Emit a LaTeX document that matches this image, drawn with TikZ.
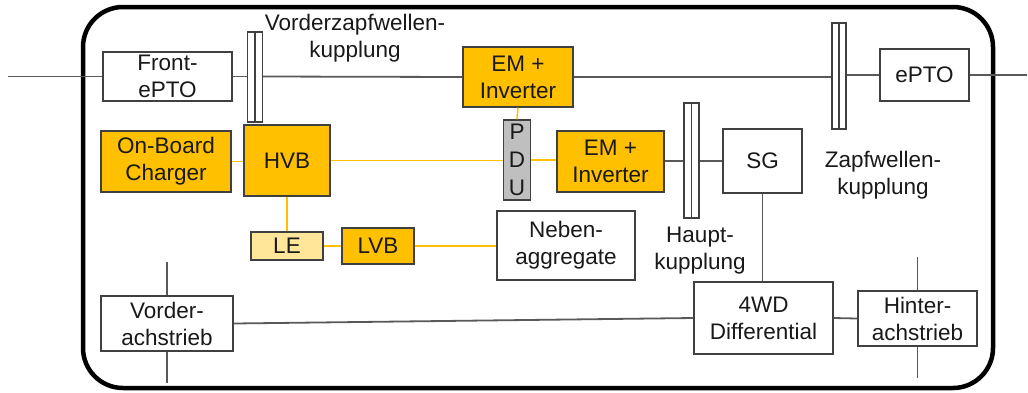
\documentclass[tikz,border=0pt]{standalone}
\usepackage{fontspec}
\setmainfont{Liberation Sans}
\definecolor{orng}{HTML}{FFC000}
\definecolor{lyel}{HTML}{FFE699}
\definecolor{pgray}{HTML}{BFBFBF}
\definecolor{bord}{HTML}{404040}
\definecolor{shaft}{HTML}{595959}
\tikzset{
  txt/.style={align=center, inner sep=0pt, font=\fontsize{22.5}{27}\selectfont, text=black!90},
  box/.style={txt, draw=bord, line width=1.4pt, fill=white},
  obox/.style={box, fill=orng},
  clutch/.style={draw=bord, line width=1.4pt, fill=white, inner sep=0pt, minimum width=15},
  shaftline/.style={draw=shaft, line width=1.8pt},
  hvline/.style={draw=orng, line width=1.5pt},
}
\begin{document}
\begin{tikzpicture}[x=1pt,y=-1pt]
\useasboundingbox (0,0) rectangle (1028,392);
\draw[line width=4.5pt, rounded corners=40] (83,7) rectangle (993,388);

% nodes
\node[box, minimum width=129, minimum height=49] (front) at (167.5,76.5) {Front-\\ePTO};
\node[clutch, minimum height=90] (vzk) at (255,77) {};
\node[txt] (vzkl) at (355,38) {Vorderzapfwellen-\\kupplung};
\node[obox, minimum width=110, minimum height=60] (em1) at (518,77) {EM +\\Inverter};
\node[clutch, minimum width=14, minimum height=106] (zk) at (839,76) {};
\node[box, minimum width=89, minimum height=52] (epto) at (924.5,75) {ePTO};
\node[txt] (zkl) at (883,175) {Zapfwellen-\\kupplung};
\node[box, fill=pgray, minimum width=27, minimum height=80, font=\fontsize{22.5}{28}\selectfont] (pdu) at (517,160) {P\\D\\U};
\node[obox, minimum width=107, minimum height=61] (em2) at (610.5,161.5) {EM +\\Inverter};
\node[clutch, minimum height=115] (hk) at (691.5,160.5) {};
\node[txt] (hkl) at (700,251) {Haupt-\\kupplung};
\node[box, minimum width=79, minimum height=64] (sg) at (762.5,161) {SG};
\node[box, minimum width=139, minimum height=72] (wd) at (763.5,318) {4WD\\Differential};
\node[box, minimum width=119, minimum height=55] (hinter) at (917.5,318.5) {Hinter-\\achstrieb};
\node[box, minimum width=132, minimum height=55] (vorder) at (167,323.5) {Vorder-\\achstrieb};
\node[box, minimum width=138, minimum height=69] (neben) at (566,245.5) {Neben-\\aggregate};
\node[obox, minimum width=72, minimum height=36] (lvb) at (378,246) {LVB};
\node[box, fill=lyel, minimum width=72, minimum height=28] (le) at (287,246) {LE};
\node[obox, minimum width=86, minimum height=71] (hvb) at (287,160.5) {HVB};
\node[obox, minimum width=130, minimum height=61] (obc) at (166,161.5) {On-Board\\Charger};

% clutch inner lines
\foreach \c in {vzk,zk,hk} \draw[draw=bord, line width=1.4pt] (\c.north) -- (\c.south);

% coordinates for free ends
\coordinate (lin) at (8,76.5);
\coordinate (rout) at (1027,75);
\coordinate (vt) at (167,262);
\coordinate (vb) at (167,383);
\coordinate (ht) at (917.5,257);
\coordinate (hb) at (917.5,378);

% yellow HV lines
\path[hvline] (obc.east) -- (obc.east -| hvb.west);
\path[hvline] (hvb.east) -- (hvb.east -| pdu.west);
\path[hvline] (pdu.east) -- (pdu.east -| em2.west);
\path[hvline] (em1.south) -- (pdu.north);
\path[hvline] (hvb.south) -- (le.north);
\path[hvline] (le.east) -- (lvb.west);
\path[hvline] (lvb.east) -- (lvb.east -| neben.west);

% shafts
\path[shaftline] (lin) -- (front.west);
\path[shaftline] (front.east) -- (front.east -| vzk.west);
\path[shaftline] (vzk.east |- front.east) -- (em1.west);
\path[shaftline] (em1.east) -- (em1.east -| zk.west);
\path[shaftline] (zk.east |- epto.west) -- (epto.west);
\path[shaftline] (epto.east) -- (rout);
\path[shaftline] (em2.east |- sg.west) -- (hk.west |- sg.west);
\path[shaftline] (hk.east |- sg.west) -- (sg.west);
\path[shaftline] (sg.south) -- (sg.south |- wd.north);
\path[shaftline] (wd.east) -- (hinter.west);
\path[shaftline] (vorder.east) -- (wd.west);
\path[shaftline] (vt) -- (vorder.north);
\path[shaftline] (vorder.south) -- (vb);
\path[shaftline] (ht) -- (hinter.north);
\path[shaftline] (hinter.south) -- (hb);
\end{tikzpicture}
\end{document}
